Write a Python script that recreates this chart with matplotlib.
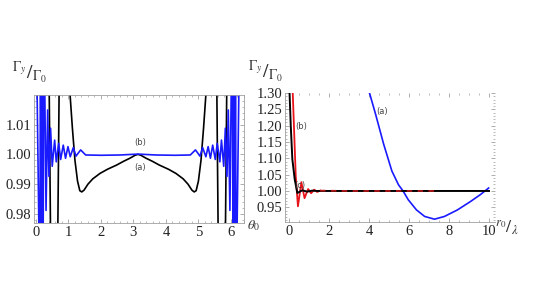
import matplotlib
matplotlib.use("Agg")
import matplotlib.pyplot as plt
from matplotlib.ticker import MultipleLocator

plt.rcParams['font.family'] = ['Liberation Serif', 'DejaVu Serif']
plt.rcParams['mathtext.fontset'] = 'stix'

# left panel: Gamma_y/Gamma_0 vs theta_0
th_b = [0.00, 0.12, 0.14, 0.165, 0.19, 0.215, 0.245, 0.31, 0.36, 0.40, 0.45, 0.50,
        0.575, 0.625, 0.70, 0.76, 0.84, 0.91, 0.985, 1.055, 1.15, 1.23, 1.375, 1.53,
        2.00, 2.60, 3.14, 3.68, 4.28, 4.75, 4.91, 5.05, 5.13, 5.23, 5.30, 5.37,
        5.44, 5.52, 5.58, 5.66, 5.71, 5.78, 5.83, 5.88, 5.92, 5.97, 6.04, 6.07,
        6.09, 6.12, 6.14, 6.16, 6.28]
gam_b = [1.05, 0.95, 1.05, 0.95, 1.05, 0.95, 1.05, 0.9812, 1.0149, 0.9926, 1.0088, 0.9960,
         1.0048, 0.9975, 1.0037, 0.9983, 1.0031, 0.9987, 1.0026, 0.9992, 1.0023, 0.9994, 1.0015, 0.9998,
         0.9997, 0.9998, 1.0001, 0.9998, 0.9997, 0.9998, 1.0015, 0.9994, 1.0023, 0.9992, 1.0026, 0.9987,
         1.0031, 0.9983, 1.0037, 0.9975, 1.0048, 0.9960, 1.0088, 0.9926, 1.0149, 0.9812, 1.05, 0.95,
         1.05, 0.95, 1.05, 0.95, 1.05]

th_a = [0.15, 0.40, 0.46, 0.55, 0.66, 0.72, 0.85, 1.00, 1.05, 1.12, 1.20, 1.28,
        1.35, 1.41, 1.48, 1.60, 1.75, 1.97, 2.20, 2.48, 2.70, 2.89, 3.05, 3.14,
        3.23, 3.39, 3.58, 3.80, 4.08, 4.31, 4.53, 4.68, 4.80, 4.87, 4.93, 5.00,
        5.08, 5.16, 5.23, 5.28, 5.43, 5.56, 5.62, 5.73, 5.82, 5.88, 6.13]
gam_a = [1.05, 1.03, 0.96, 0.93, 0.96, 1.03, 1.07, 1.03, 1.020, 1.009, 0.998, 0.991,
         0.9878, 0.9874, 0.9880, 0.9900, 0.9918, 0.9936, 0.9950, 0.9964, 0.9977, 0.9987, 0.9997, 1.0000,
         0.9997, 0.9987, 0.9977, 0.9964, 0.9950, 0.9936, 0.9918, 0.9900, 0.9880, 0.9874, 0.9878, 0.991,
         0.998, 1.009, 1.020, 1.03, 1.07, 1.03, 0.96, 0.93, 0.96, 1.03, 1.05]

# right panel: Gamma_y/Gamma_0 vs r_0/lambda
r_a = [4.02, 4.32, 4.73, 5.14, 5.47, 5.71, 5.96, 6.37, 6.78, 7.27, 7.77, 8.42, 9.08, 9.57, 9.98]
g_a = [1.300, 1.236, 1.143, 1.061, 1.019, 0.999, 0.973, 0.942, 0.922, 0.9136, 0.922, 0.942, 0.968, 0.989, 1.009]

r_b = [0.15, 0.18, 0.33, 0.44, 0.61, 0.77, 0.95, 1.10, 1.25, 1.40, 1.55]
g_b = [1.40, 1.30, 1.045, 0.953, 1.027, 0.978, 1.006, 0.993, 1.004, 0.997, 1.001]
r_b2 = [1.55, 3.0, 5.0, 7.27]
g_b2 = [1.001, 1.000, 1.000, 1.000]

r_c = [0.0, 0.02, 0.08, 0.16, 0.28, 0.41, 0.66, 0.90, 1.15, 1.40, 10.0]
g_c = [1.34, 1.30, 1.20, 1.097, 1.035, 0.994, 1.002, 0.998, 1.001, 1.000, 1.000]

fig = plt.figure(figsize=(5.34, 3.0), dpi=100)
frame = '#a0a0a0'
lab = dict(fontsize=6, color='#444444', family='DejaVu Sans', ha='center', va='center')

ax1 = fig.add_axes([0.0637, 0.257, 0.393, 0.426])
ax1.plot(th_a, gam_a, color='black', lw=1.2)
ax1.plot(th_b, gam_b, color='#1a1aff', lw=1.2)
ax1.set_xlim(-0.06, 6.4)
ax1.set_ylim(0.977, 1.0199)
ax1.xaxis.set_major_locator(MultipleLocator(1))
ax1.xaxis.set_minor_locator(MultipleLocator(0.2))
ax1.yaxis.set_minor_locator(MultipleLocator(0.002))
ax1.set_yticks([0.98, 0.99, 1.00, 1.01])
ax1.set_yticklabels(['0.98', '0.99', '1.00', '1.01'])
ax1.text(3.2, 0.9955, '(a)', **lab)
ax1.text(3.2, 1.0041, '(b)', **lab)
ax1.text(6.49, 0.9761, r'$\theta_0$', fontsize=10, ha='left', va='center', color='#333333')
ax1.text(-0.74, 1.0273, r'$^{\Gamma_y}/_{\Gamma_0}$', fontsize=14, ha='left', va='center', color='#333333')
for s in ax1.spines.values():
    s.set_color(frame)
    s.set_linewidth(0.6)

ax2 = fig.add_axes([0.534, 0.26, 0.393, 0.43])
ax2.plot(r_a, g_a, color='#1a1aff', lw=1.2)
ax2.plot(r_b, g_b, color='#e8141b', lw=1.3)
ax2.plot(r_c, g_c, color='black', lw=1.4)
ax2.plot(r_b2, g_b2, color='#b01515', lw=1.3, ls=(0, (3, 3)))
ax2.set_xlim(-0.2, 10.3)
ax2.set_ylim(0.905, 1.30)
ax2.xaxis.set_major_locator(MultipleLocator(2))
ax2.xaxis.set_minor_locator(MultipleLocator(0.5))
ax2.yaxis.set_minor_locator(MultipleLocator(0.01))
ax2.set_yticks([0.95, 1.00, 1.05, 1.10, 1.15, 1.20, 1.25, 1.30])
ax2.set_yticklabels(['0.95', '1.00', '1.05', '1.10', '1.15', '1.20', '1.25', '1.30'])
ax2.text(4.65, 1.243, '(a)', **lab)
ax2.text(0.62, 1.198, '(b)', **lab)
ax2.text(0.54, 1.018, '(c)', **lab)
ax2.text(10.3, 0.885, r'$^{r_0}/_{\lambda}$', fontsize=13, ha='left', va='center', color='#333333')
ax2.text(-2.07, 1.366, r'$^{\Gamma_y}/_{\Gamma_0}$', fontsize=14, ha='left', va='center', color='#333333')
for s in ax2.spines.values():
    s.set_color(frame)
    s.set_linewidth(0.6)
ax2.spines['top'].set_visible(False)
ax2.spines['right'].set_visible(False)

for ax in (ax1, ax2):
    ax.tick_params(which='both', direction='in', top=True, right=True, color=frame,
                   labelsize=10.5, pad=2, labelcolor='#222222')
    ax.tick_params(which='major', length=3, width=0.6)
    ax.tick_params(which='minor', length=1.5, width=0.5)

fig.savefig('out.png', dpi=100)
